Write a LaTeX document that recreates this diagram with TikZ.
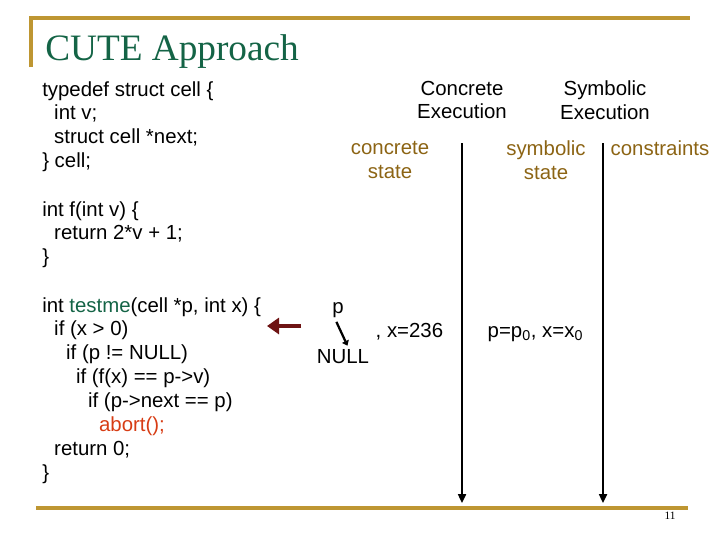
\documentclass[tikz,border=0pt]{standalone}
\usepackage{fontspec}
\setmainfont{Liberation Sans}
\newfontfamily\titlefont{Liberation Serif}
\usetikzlibrary{arrows.meta,positioning}
\definecolor{pine}{RGB}{20,100,70}
\definecolor{brass}{RGB}{190,150,50}
\definecolor{ochre}{RGB}{140,100,20}
\definecolor{maroon}{RGB}{110,20,20}
\definecolor{brick}{RGB}{215,60,20}
\tikzset{
  code/.style={font=\fontsize{14.5}{17}\selectfont,align=left,anchor=north west,inner sep=0pt},
  head/.style={font=\fontsize{14.5}{17}\selectfont,align=center,inner sep=1pt},
  slot/.style={head,text=ochre},
  rule/.style={brass,line width=2.2pt},
  timeline/.style={-{Triangle[length=2.2mm,width=2mm]},line width=1.2pt},
}
\begin{document}
\begin{tikzpicture}[x=0.025cm,y=-0.025cm]
  \useasboundingbox (0,0) rectangle (720,540);
  % frame rules and title
  \draw[rule] (31,67) -- (31,18) -- (690,18);
  \draw[rule] (36,508) -- (688,508);
  \node[anchor=base west,inner sep=0pt,text=pine,font=\titlefont\fontsize{26.5}{30}\selectfont] (title) at (45,60) {CUTE Approach};
  \node[font=\titlefont\fontsize{8}{9}\selectfont] (page) at (670,516) {11};

  % program text
  \node[code] (cell) at (42,81) {typedef struct cell \{\\
    \hspace*{8.5pt}int v;\\
    \hspace*{8.5pt}struct cell *next;\\
    \} cell;};
  \node[code] (f) at (42,201) {int f(int v) \{\\
    \hspace*{8.5pt}return 2*v + 1;\\
    \}};
  \node[code] (testme) at (42,297) {int \textcolor{pine}{testme}(cell *p, int x) \{\\
    \hspace*{8.5pt}if (x > 0)\\
    \hspace*{17pt}if (p != NULL)\\
    \hspace*{24pt}if (f(x) == p->v)\\
    \hspace*{32.6pt}if (p->next == p)\\
    \hspace*{40.4pt}\textcolor{brick}{abort();}\\
    \hspace*{8.5pt}return 0;\\
    \}};

  % columns
  \node[head] (conc) at (462,100) {Concrete\\Execution};
  \node[head] (symb) at (605,100) {Symbolic\\Execution};
  \node[slot] (cstate) at (390,160) {concrete\\state};
  \node[slot] (sstate) at (546,160) {symbolic\\state};
  \node[slot] (cons) at (660,148) {constraints};
  \coordinate (ctop) at (462,143);
  \coordinate (cbot) at (462,503);
  \coordinate (stop) at (603,143);
  \coordinate (sbot) at (603,503);
  \draw[timeline] (ctop) -- (cbot);
  \draw[timeline] (stop) -- (sbot);

  % current state
  \node[head] (p) at (338,310) {p};
  \node[head] (null) at (343,357) {NULL};
  \node[head,anchor=west] (x) at (374,332) {, x=236};
  \node[head,anchor=west] (sym) at (486,334) {p=p\textsubscript{0}, x=x\textsubscript{0}};
  \draw[-{Triangle[length=1.2mm,width=1.8mm]},line width=1.6pt,shorten <=2pt,shorten >=2pt]
    ([xshift=-2pt]p.south) -- ([xshift=4pt]null.north);

  % program counter
  \coordinate (pcfrom) at (301,326);
  \coordinate (pcto) at (267,326);
  \draw[maroon,line width=3pt,-{Triangle[length=3mm,width=4mm]}] (pcfrom) -- (pcto);
\end{tikzpicture}
\end{document}
